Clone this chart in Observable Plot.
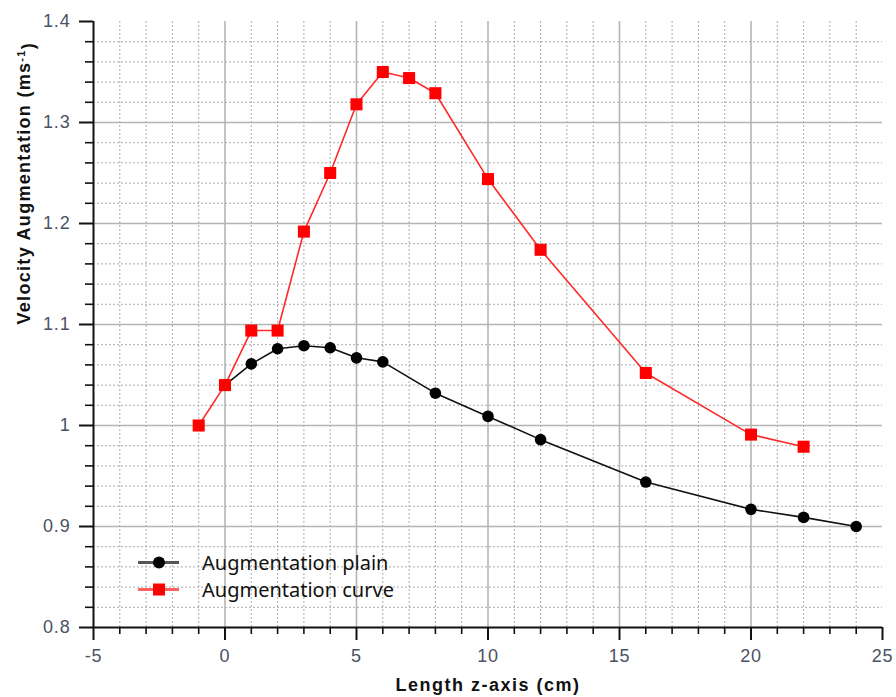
<!DOCTYPE html>
<html>
<head>
<meta charset="utf-8">
<script src="https://cdn.jsdelivr.net/npm/d3@7"></script>
<script src="https://cdn.jsdelivr.net/npm/@observablehq/plot@0.6"></script>
<style>
  html, body { margin: 0; padding: 0; background: #fff; }
  #wrap { position: relative; width: 896px; height: 697px; }
  #chart svg, #chart svg text { font-family: "Liberation Sans", Arial, sans-serif !important; }
  #legend { position: absolute; left: 130px; top: 549px; font-family: "Noto Sans", "Open Sans", sans-serif; font-size: 20px; color: #111; }
  #legend .row { display: flex; align-items: center; height: 27px; }
  #legend svg { width: 62px; height: 27px; margin-right: 10px; }
</style>
</head>
<body>
<div id="wrap"><div id="chart"></div>
<div id="legend"></div></div>
<script>
// ---- data ----
const xCurve = [-1, 0, 1, 2, 3, 4, 5, 6, 7, 8, 10, 12, 16, 20, 22];
const yCurve = [1.000, 1.040, 1.094, 1.094, 1.192, 1.250, 1.318, 1.350, 1.344, 1.329, 1.244, 1.174, 1.052, 0.991, 0.979];
const xPlain = [0, 1, 2, 3, 4, 5, 6, 8, 10, 12, 16, 20, 22, 24];
const yPlain = [1.040, 1.061, 1.076, 1.079, 1.077, 1.067, 1.063, 1.032, 1.009, 0.986, 0.944, 0.917, 0.909, 0.900];
const seriesNames = ["Augmentation plain", "Augmentation curve"];
const xTicks = [-5, 0, 5, 10, 15, 20, 25];
const yTicks = [0.8, 0.9, 1, 1.1, 1.2, 1.3, 1.4];
const xMinor = [-4, -3, -2, -1, 1, 2, 3, 4, 6, 7, 8, 9, 11, 12, 13, 14, 16, 17, 18, 19, 21, 22, 23, 24];
const yMinor = [0.82, 0.84, 0.86, 0.88, 0.92, 0.94, 0.96, 0.98, 1.02, 1.04, 1.06, 1.08, 1.12, 1.14, 1.16, 1.18, 1.22, 1.24, 1.26, 1.28, 1.32, 1.34, 1.36, 1.38];
const xTitle = "Length z-axis (cm)";
const yTitle = "Velocity Augmentation (ms-1)";

const plain = xPlain.map((x, i) => ({x, y: yPlain[i]}));
const curve = xCurve.map((x, i) => ({x, y: yCurve[i]}));
const xDom = [xTicks[0], xTicks[xTicks.length - 1]];
const yDom = [yTicks[0], yTicks[yTicks.length - 1]];
const xGrid = xTicks.filter(d => d !== xDom[0] && d !== xDom[1]);
const yGrid = yTicks.filter(d => d !== yDom[0] && d !== yDom[1]);

const tickColor = "#4a5263";
const FF = "Liberation Sans";
const chart = Plot.plot({
  width: 896, height: 697,
  marginLeft: 93, marginRight: 14, marginTop: 21, marginBottom: 70,
  style: {fontFamily: FF, background: "#fff"},
  x: {domain: xDom, axis: null},
  y: {domain: yDom, axis: null},
  marks: [
    // minor grid
    Plot.ruleX(xMinor, {y1: yDom[0], y2: yDom[1], stroke: "#aaa", strokeWidth: 1, strokeDasharray: "2,2"}),
    Plot.ruleY(yMinor, {x1: xDom[0], x2: xDom[1], stroke: "#aaa", strokeWidth: 1, strokeDasharray: "2,2"}),
    // major grid
    Plot.ruleX(xGrid, {y1: yDom[0], y2: yDom[1], stroke: "#b4b4b4", strokeWidth: 1.6}),
    Plot.ruleY(yGrid, {x1: xDom[0], x2: xDom[1], stroke: "#b4b4b4", strokeWidth: 1.6}),
    // axes
    Plot.axisX({ticks: xMinor, tickSize: 7, strokeWidth: 1.6, stroke: "#111", text: null, label: null}),
    Plot.axisY({ticks: yMinor, tickSize: 8, strokeWidth: 1.6, stroke: "#111", text: null, label: null}),
    Plot.axisX({ticks: xTicks, tickSize: 13, tickPadding: 9, strokeWidth: 2, stroke: "#111", fill: tickColor, fontSize: 18, fontFamily: FF, tickFormat: d => String(d), label: null}),
    Plot.axisY({ticks: yTicks, tickSize: 14, tickPadding: 9, strokeWidth: 2, stroke: "#111", fill: tickColor, fontSize: 18, fontFamily: FF, tickFormat: d => String(d), label: null}),
    Plot.ruleY([yDom[0]], {x1: xDom[0], x2: xDom[1], stroke: "#111", strokeWidth: 2}),
    Plot.ruleX([xDom[0]], {y1: yDom[0], y2: yDom[1], stroke: "#111", strokeWidth: 2}),
    // titles
    Plot.text([xTitle], {frameAnchor: "bottom", dy: 58, fontSize: 18, fontFamily: FF, fontWeight: "bold", fill: "#111", lineAnchor: "middle"}),
    Plot.text([yTitle], {frameAnchor: "left", dx: -69, rotate: -90, fontSize: 18, fontFamily: FF, fontWeight: "bold", fill: "#111", lineAnchor: "middle"}),
    // series
    Plot.line(plain, {x: "x", y: "y", stroke: "#111", strokeWidth: 1.6}),
    Plot.dot(plain, {x: "x", y: "y", r: 5.8, fill: "#000", stroke: "none"}),
    Plot.line(curve, {x: "x", y: "y", stroke: "#ff2a2a", strokeWidth: 1.6}),
    Plot.dot(curve, {x: "x", y: "y", symbol: "square", r: 6.8, fill: "#ff0000", stroke: "none"})
  ]
});
document.getElementById("chart").appendChild(chart);

// letter spacing for axis texts, superscript in y title
d3.select(chart).selectAll("text").each(function() {
  const t = this.textContent;
  if (t === yTitle) {
    const el = d3.select(this);
    el.text(null).style("letter-spacing", "1.3px");
    el.append("tspan").text("Velocity Augmentation (ms");
    el.append("tspan").attr("dy", "-0.5em").attr("font-size", "11").text("-1");
    el.append("tspan").attr("dy", "0.5em").text(")");
  } else if (t === xTitle) {
    d3.select(this).style("letter-spacing", "1.5px");
  } else {
    d3.select(this).style("letter-spacing", "0.8px");
  }
});

// legend
const leg = d3.select("#legend");
const rows = [
  {name: seriesNames[0], line: "#555", sym: "circle", fill: "#000"},
  {name: seriesNames[1], line: "#ff6060", sym: "square", fill: "#ff0000"}
];
rows.forEach(r => {
  const row = leg.append("div").attr("class", "row");
  const s = row.append("svg");
  s.append("line").attr("x1", 8).attr("x2", 49).attr("y1", 13.5).attr("y2", 13.5).attr("stroke", r.line).attr("stroke-width", 3);
  if (r.sym === "circle") s.append("circle").attr("cx", 29).attr("cy", 13.5).attr("r", 6).attr("fill", r.fill);
  else s.append("rect").attr("x", 23).attr("y", 7.5).attr("width", 12).attr("height", 12).attr("fill", r.fill);
  row.append("span").text(r.name);
});
</script>
</body>
</html>
